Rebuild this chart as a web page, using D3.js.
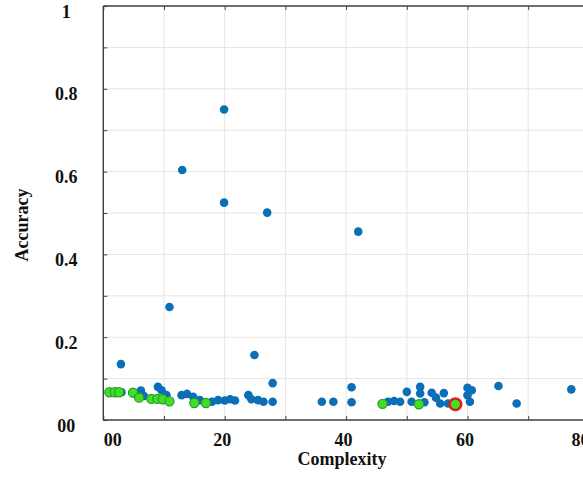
<!DOCTYPE html>
<html>
<head>
<meta charset="utf-8">
<script src="https://cdn.jsdelivr.net/npm/d3@7"></script>
<style>
  html, body { margin: 0; padding: 0; background: #fff; overflow: hidden; }
  svg { display: block; }
  .lbl { font-family: "Liberation Serif", "Times New Roman", serif; font-weight: bold; fill: #111; }
</style>
</head>
<body>
<svg id="chart" width="583" height="482"></svg>
<script>
// Tick values and their printed labels
const xTickValues = [0, 20, 40, 60, 80];
const xTickLabels = ["00", "20", "40", "60", "80"];
const yTickValues = [0, 0.2, 0.4, 0.6, 0.8, 1];
const yTickLabels = ["00", "0.2", "0.4", "0.6", "0.8", "1"];

// All evaluated models (complexity vs accuracy)
const blueX = [19.9, 13.0, 19.9, 27.0, 10.9, 2.9, 24.9, 42.0,
  3.0, 6.2, 6.7, 9.0, 9.6, 10.4, 12.9, 13.8, 14.8, 15.9, 17.9, 18.9, 20.0, 20.9, 21.7,
  23.9, 24.4, 25.5, 26.4, 27.9, 27.9, 36.0, 37.9, 40.9, 40.9, 46.9, 47.9, 48.9, 50.0,
  50.8, 52.2, 52.2, 52.9, 54.1, 54.8, 55.5, 56.1, 56.8, 60.0, 60.0, 60.7, 60.4, 65.1, 68.1, 77.1];
const blueY = [0.750, 0.604, 0.525, 0.501, 0.273, 0.135, 0.157, 0.455,
  0.067, 0.071, 0.058, 0.080, 0.072, 0.060, 0.060, 0.063, 0.056, 0.048, 0.044, 0.048, 0.047, 0.050, 0.047,
  0.060, 0.050, 0.048, 0.044, 0.089, 0.044, 0.044, 0.044, 0.079, 0.043, 0.044, 0.046, 0.044, 0.068,
  0.044, 0.080, 0.064, 0.043, 0.066, 0.054, 0.040, 0.065, 0.040, 0.078, 0.060, 0.072, 0.044, 0.082, 0.040, 0.074];

// Pareto-front models
const greenX = [1.0, 1.9, 2.6, 4.9, 5.9, 7.9, 8.9, 9.8, 10.9, 15.0, 16.9, 46.0, 52.0];
const greenY = [0.067, 0.067, 0.067, 0.066, 0.054, 0.051, 0.051, 0.050, 0.045, 0.041, 0.041, 0.039, 0.038];

// Selected model
const selectedX = [58.0];
const selectedY = [0.038];

const svg = d3.select("#chart");
const x = d3.scaleLinear().domain([0, 80]).range([103.3, 588.9]);
const y = d3.scaleLinear().domain([0, 1]).range([420, 6]);
const xEnd = 620;

// grid
const grid = svg.append("g");
grid.selectAll("line.gx").data(d3.range(10, 90, 10)).join("line")
  .attr("x1", d => x(d)).attr("x2", d => x(d))
  .attr("y1", y(0)).attr("y2", y(1))
  .attr("stroke", "#e5e5e5").attr("stroke-width", 1);
grid.selectAll("line.gy").data(d3.range(1, 10).map(i => i / 10)).join("line")
  .attr("x1", x(0)).attr("x2", xEnd)
  .attr("y1", d => y(d)).attr("y2", d => y(d))
  .attr("stroke", "#e5e5e5").attr("stroke-width", 1);

// axis tick marks (inward), no labels
const tickXs = d3.range(0, 90, 10);
const tickYs = d3.range(0, 11).map(i => i / 10);
const axTop = svg.append("g").attr("transform", `translate(0,${y(1)})`)
  .call(d3.axisTop(x).tickValues(tickXs).tickSize(-4).tickFormat(""));
const axBottom = svg.append("g").attr("transform", `translate(0,${y(0)})`)
  .call(d3.axisBottom(x).tickValues(tickXs).tickSize(-4).tickFormat(""));
const axLeft = svg.append("g").attr("transform", `translate(${x(0)},0)`)
  .call(d3.axisLeft(y).tickValues(tickYs).tickSize(-4).tickFormat(""));
[axTop, axBottom, axLeft].forEach(g => {
  g.select(".domain").remove();
  g.selectAll(".tick line").attr("stroke", "#444").attr("stroke-width", 1);
});

// frame
const frame = svg.append("g").attr("stroke", "#3c3c3c").attr("stroke-width", 1.4);
frame.append("line").attr("x1", x(0)).attr("x2", xEnd).attr("y1", y(1)).attr("y2", y(1));
frame.append("line").attr("x1", x(0)).attr("x2", xEnd).attr("y1", y(0)).attr("y2", y(0));
frame.append("line").attr("x1", x(0)).attr("x2", x(0)).attr("y1", y(1)).attr("y2", y(0));

// tick labels
const xl = svg.append("g").attr("transform", `translate(0,${y(0)})`)
  .call(d3.axisBottom(x).tickValues(xTickValues).tickSize(0).tickPadding(13)
    .tickFormat((d, i) => xTickLabels[i]));
xl.select(".domain").remove();
xl.selectAll("text").attr("class", "lbl").attr("font-size", 18)
  .attr("dx", (d, i) => i === 0 ? 0 : (i === xTickValues.length - 1 ? -9 : -3))
  .attr("text-anchor", (d, i) => i === 0 ? "start" : "middle");

const yl = svg.append("g").attr("transform", `translate(${x(0) - 37},0)`)
  .call(d3.axisLeft(y).tickValues(yTickValues).tickSize(0).tickPadding(0)
    .tickFormat((d, i) => yTickLabels[i]));
yl.select(".domain").remove();
yl.selectAll("text").attr("class", "lbl").attr("font-size", 18)
  .attr("text-anchor", "middle").attr("x", 0).attr("dy", "0.62em");

// axis titles
svg.append("text").attr("class", "lbl").attr("font-size", 18)
  .attr("x", 342).attr("y", 465).attr("text-anchor", "middle").text("Complexity");
svg.append("text").attr("class", "lbl").attr("font-size", 18)
  .attr("transform", "translate(28,225) rotate(-90)")
  .attr("text-anchor", "middle").text("Accuracy");

// points
const pts = svg.append("g");
pts.selectAll("circle.all").data(blueX.map((v, i) => [v, blueY[i]])).join("circle")
  .attr("cx", d => x(d[0])).attr("cy", d => y(d[1])).attr("r", 4.3)
  .attr("fill", "#0b6fb8");
pts.selectAll("circle.front").data(greenX.map((v, i) => [v, greenY[i]])).join("circle")
  .attr("cx", d => x(d[0])).attr("cy", d => y(d[1])).attr("r", 4.6)
  .attr("fill", "#3fe023").attr("stroke", "#2b9a2e").attr("stroke-width", 1.2);
pts.selectAll("circle.sel").data(selectedX.map((v, i) => [v, selectedY[i]])).join("circle")
  .attr("cx", d => x(d[0])).attr("cy", d => y(d[1])).attr("r", 5.8)
  .attr("fill", "#3fe023").attr("stroke", "#e01f1f").attr("stroke-width", 2.6);
</script>
</body>
</html>
